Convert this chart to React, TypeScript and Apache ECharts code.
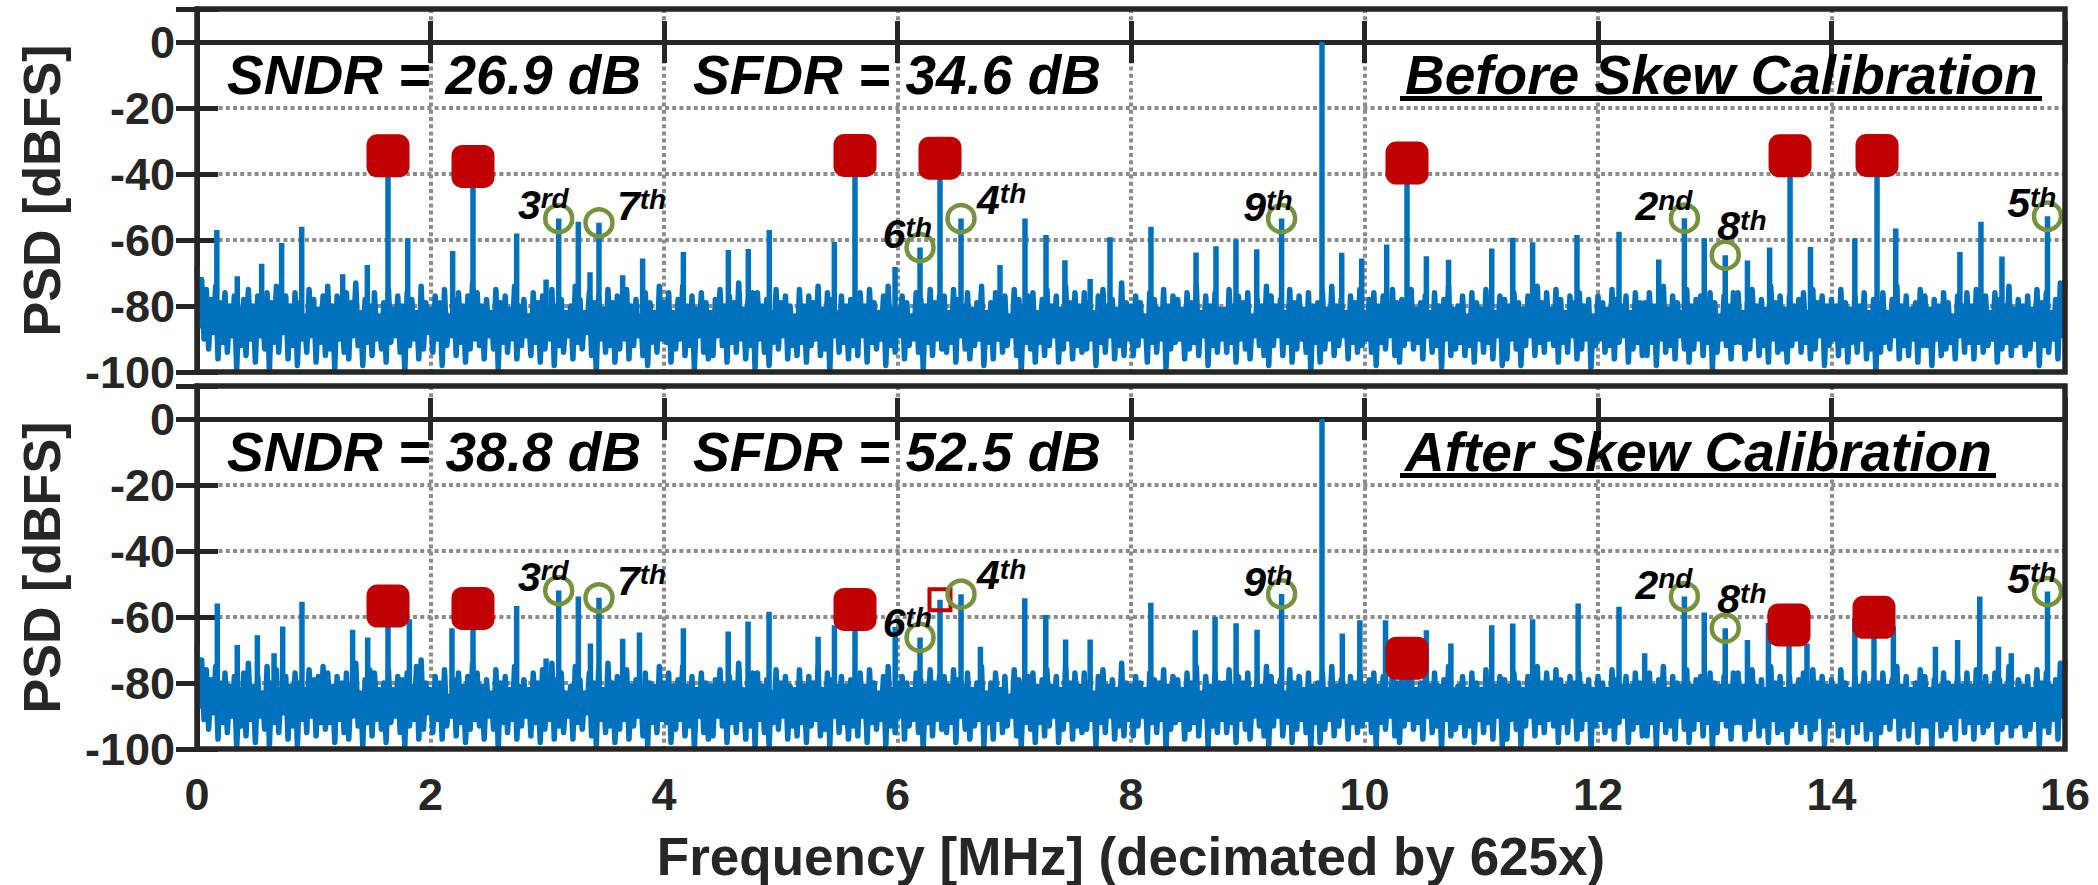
import React, { useEffect, useRef } from "react";
import * as echarts from "echarts";

// ---------------- data ----------------
const X_MIN = 0;
const X_MAX = 16;
const X_INTERVAL = 2;
const Y_MIN = -100;
const Y_MAX = 10;
const Y_INTERVAL = 20;

const NOISE_STEP = 0.02; // MHz between noise-floor samples
const SPIKE_BASE = -84; // dBFS, foot of the tone lines

// noise floor magnitudes (value = -m dBFS), before calibration
const noiseTop = [
  68,86,72,90,75,93,78,88,74,96,79,91,76,94,80,89,77,99,81,92,
  78,95,75,90,80,97,77,89,82,93,76,100,79,91,74,94,81,88,77,96,
  80,92,76,98,79,90,83,94,75,89,78,97,81,91,77,95,74,93,80,99,
  77,90,81,94,76,96,79,89,73,92,82,98,78,91,80,95,76,90,83,93,
  79,97,75,91,81,89,77,94,80,100,76,92,78,90,82,96,74,93,79,88,
  81,94,77,90,79,98,75,92,83,89,78,95,76,91,80,97,77,93,73,90,
  76,92,80,96,78,89,82,93,75,99,79,91,77,94,81,90,74,96,80,92,
  78,89,83,95,76,91,79,97,77,93,81,90,75,98,80,92,78,94,82,89,
  80,96,74,91,78,93,82,88,76,95,79,100,77,90,81,94,75,92,79,97,
  77,93,81,90,75,96,80,92,78,89,83,95,76,98,79,91,82,94,74,90,
  79,91,76,97,82,93,78,90,74,95,80,92,77,99,81,89,76,94,79,96,
  82,95,78,89,75,92,80,97,77,91,79,94,73,90,81,96,78,92,76,99,
  76,90,80,94,78,98,82,91,75,93,79,89,77,96,80,92,83,95,75,91,
  80,97,77,92,79,90,74,95,81,93,76,100,78,89,82,94,77,91,80,96,
  78,92,81,95,76,89,80,97,75,91,79,93,82,90,77,98,74,92,81,94,
  81,89,77,96,79,92,83,90,76,94,78,99,80,91,75,95,79,90,77,93,
  77,94,82,91,75,97,78,89,80,93,76,96,81,92,79,90,74,98,82,91,
  79,96,76,90,81,94,77,92,83,89,75,95,78,100,80,91,77,93,76,97,
  82,91,78,95,75,92,80,89,77,97,81,93,74,90,79,96,76,92,80,94,
  76,93,79,90,82,98,77,91,75,94,80,89,78,96,81,92,73,95,79,90,
  80,95,77,92,79,89,83,97,76,91,78,94,81,90,75,99,80,93,77,91,
  78,90,81,96,76,93,79,91,74,95,82,89,77,98,80,92,76,94,81,90,
  81,94,75,91,80,97,77,90,79,93,76,96,83,89,78,92,80,95,74,98,
  77,92,80,89,78,95,82,91,75,97,79,93,77,90,81,94,76,100,80,91,
  79,97,76,93,81,90,74,95,80,92,78,89,82,96,77,91,79,94,75,92,
  82,90,78,94,76,98,80,91,77,93,81,89,75,95,79,97,78,92,80,90,
  75,93,81,91,79,96,77,89,82,94,76,92,80,99,78,90,74,95,81,93,
  80,91,77,95,83,92,76,97,79,90,81,94,75,91,78,96,82,89,77,98,
  78,96,80,90,76,93,79,98,81,92,77,89,80,95,74,91,79,94,76,90,
  81,92,75,97,78,91,82,94,77,89,79,96,76,93,80,90,78,99,83,92,
  77,90,79,94,81,92,75,96,78,91,80,89,77,97,82,93,76,91,79,95,
  79,95,76,91,80,98,78,90,74,94,81,92,77,96,79,89,82,93,75,97,
  80,93,78,90,77,95,81,91,76,99,79,94,83,90,77,92,80,96,76,91,
  76,91,82,96,79,93,75,89,80,95,78,92,81,97,74,90,79,94,77,93,
  81,97,77,92,80,90,78,94,76,91,82,96,75,93,79,89,77,98,80,92,
  78,90,80,95,75,92,79,97,81,91,77,94,80,90,76,96,82,93,78,100,
  79,94,76,91,82,93,78,89,74,96,80,92,77,95,81,90,79,97,75,92,
  77,92,81,98,78,90,80,95,76,93,79,91,83,96,77,89,80,94,76,91,
  80,96,75,91,79,94,77,92,82,90,76,97,78,93,80,91,74,95,81,92,
  78,91,80,95,77,93,81,90,75,98,79,92,76,94,82,90,78,96,73,89,
  72,
];

// noise floor magnitudes, after calibration
const noiseBottom = [
  69,87,73,91,76,94,79,89,75,97,80,92,77,95,81,90,78,100,82,93,
  77,96,74,91,81,98,78,90,83,94,75,99,80,92,76,95,82,89,78,97,
  81,93,77,99,80,91,82,95,76,90,79,96,78,92,75,94,77,92,81,98,
  78,91,80,95,77,97,81,90,74,93,83,99,79,92,76,96,77,91,82,94,
  80,98,76,92,82,90,78,95,79,99,77,93,81,91,75,97,73,94,80,89,
  82,95,78,91,80,97,76,93,84,90,79,96,77,92,81,98,78,94,74,91,
  77,93,81,97,79,90,83,94,76,100,80,92,78,95,82,91,75,97,81,93,
  79,90,82,96,77,92,80,98,76,94,78,91,74,97,79,93,77,95,83,90,
  81,97,75,92,79,94,83,89,77,96,80,99,76,91,82,95,74,93,80,98,
  78,94,80,91,76,97,81,93,79,90,82,96,77,99,80,92,81,95,75,91,
  80,92,77,98,81,94,79,91,75,96,81,93,78,100,82,90,77,95,80,97,
  81,96,79,90,76,93,81,98,78,92,80,95,74,91,82,97,79,93,77,99,
  77,91,81,95,79,99,83,92,76,94,80,90,78,97,81,93,82,96,76,92,
  81,98,78,93,80,91,75,96,82,94,77,99,79,90,81,95,78,92,81,97,
  79,93,82,96,77,90,81,98,76,92,80,94,83,91,78,99,75,93,82,95,
  80,90,78,97,80,93,82,91,77,95,79,100,81,92,76,96,80,91,78,94,
  78,95,81,92,76,98,79,90,81,94,77,97,82,93,80,91,75,99,83,92,
  80,97,77,91,82,95,78,93,84,90,76,96,79,99,81,92,78,94,77,98,
  81,92,79,96,76,93,81,90,78,98,82,94,75,91,80,97,77,93,81,95,
  77,94,80,91,83,99,78,92,76,95,81,90,79,97,82,93,74,96,80,91,
  81,96,78,93,80,90,82,98,77,92,79,95,80,91,76,100,81,94,78,92,
  79,91,82,97,77,94,80,92,75,96,83,90,78,99,81,93,77,95,80,91,
  80,95,76,92,81,98,78,91,80,94,77,97,82,90,79,93,81,96,75,99,
  78,93,81,90,79,96,83,92,76,98,80,94,78,91,82,95,77,100,81,92,
  80,98,77,94,82,91,75,96,81,93,79,90,81,97,78,92,80,95,76,93,
  81,91,79,95,77,99,81,92,78,94,82,90,76,96,80,98,79,93,81,91,
  76,94,82,92,80,97,78,90,81,95,77,93,81,100,79,91,75,96,82,94,
  81,92,78,96,82,93,77,98,80,91,82,95,76,92,79,97,81,90,78,99,
  79,97,81,91,77,94,80,99,82,93,78,90,81,96,75,92,80,95,77,91,
  80,93,76,98,79,92,81,95,78,90,80,97,77,94,81,91,79,100,82,93,
  78,91,80,95,82,93,76,97,79,92,81,90,78,98,81,94,77,92,80,96,
  80,96,77,92,81,99,79,91,75,95,82,93,78,97,80,90,81,94,76,98,
  81,94,79,91,78,96,82,92,77,100,80,95,81,91,78,93,81,97,77,92,
  77,92,81,97,80,94,76,90,81,96,79,93,82,98,75,91,80,95,78,94,
  82,98,78,93,81,91,79,95,77,92,81,97,76,94,80,90,78,99,81,93,
  79,91,81,96,76,93,80,98,82,92,78,95,81,91,77,97,81,94,79,100,
  80,95,77,92,81,94,79,90,75,97,81,93,78,96,82,91,80,98,76,93,
  78,93,82,99,79,91,81,96,77,94,80,92,81,97,78,90,81,95,77,92,
  81,97,76,92,80,95,78,93,81,91,77,98,79,94,81,92,75,96,82,93,
  79,92,81,96,78,94,82,91,76,99,80,93,77,95,81,91,79,97,74,90,
  73,
];

// input tone [MHz, dBFS]
const signalTone = [9.636, 0];

// interleaving (skew) spurs [MHz, dBFS]
const spursTop = [
  [1.636, -34.5], [2.364, -37.7], [5.636, -34.4], [6.364, -35.2],
  [10.364, -36.7], [13.645, -34.5], [14.39, -34.4],
];
const spursBottom = [
  [1.636, -56.7], [2.364, -57.4], [5.636, -57.7],
  [10.364, -72.5], [13.636, -62.4], [14.364, -60.1],
];
const residualSpurBottom = [[6.364, -54.8]];

// harmonics
const harmonicOrders = [2, 3, 4, 5, 6, 7, 8, 9];
const harmonicFreqs = [12.74, 3.098, 6.544, 15.85, 6.193, 3.443, 13.09, 9.29];
const harmonicsTopDb = [-53.4, -53.5, -53.5, -52.8, -62.3, -54.8, -64.6, -53.5];
const harmonicsBottomDb = [-53.8, -52.0, -53.1, -52.3, -66.2, -54.2, -63.4, -53.0];

// other tones standing above the noise floor [MHz, dBFS]
const otherTonesTop = [
  [0.17, -57], [0.345, -71], [0.554, -67.2], [0.725, -60.9], [0.897, -56],
  [1.248, -70.4], [1.459, -67.6], [1.805, -59.5], [2.19, -63.3], [2.738, -58],
  [2.99, -72], [3.266, -54.5], [3.366, -69.8], [3.646, -70.7], [3.817, -65.6],
  [4.166, -63.6], [4.551, -63], [4.722, -62.7], [4.902, -57], [5.459, -60.6],
  [5.979, -68.2], [6.878, -67.6], [7.092, -53.5], [7.272, -58.5], [7.434, -66.1],
  [7.65, -71.8], [7.82, -59.2], [8.171, -56], [8.557, -63.8], [8.728, -61.9],
  [8.899, -59.8], [9.077, -62.8], [9.805, -63.9], [9.976, -65.6], [10.19, -61.4],
  [10.53, -64.9], [10.72, -66], [11.09, -62.6], [11.27, -59.3], [11.44, -60.7],
  [11.82, -58.5], [12.18, -57.5], [12.52, -65.9], [12.91, -59.5], [13.28, -66.2],
  [13.47, -62.3], [13.82, -62.1], [14.2, -59.5], [14.55, -56.5], [15.1, -63.6],
  [15.28, -54.5], [15.46, -65],
];
const otherTonesBottom = [
  [0.174, -55.9], [0.345, -68.5], [0.517, -65.5], [0.66, -71], [0.734, -62.9],
  [0.899, -55.4], [1.333, -63.9], [1.462, -66.2], [1.819, -60.7], [2.184, -63.4],
  [2.738, -56.7], [2.99, -72.6], [3.266, -53.8], [3.37, -68], [3.646, -66.6],
  [3.79, -64.7], [4.166, -63.4], [4.55, -64.4], [4.72, -61.4], [4.9, -58.4],
  [5.32, -66], [5.46, -62.5], [5.98, -63], [6.71, -69], [7.09, -54.3],
  [7.27, -59.4], [7.44, -66.8], [7.65, -66.8], [8.17, -55.7], [8.55, -64],
  [8.72, -59.9], [8.9, -61.9], [9.08, -63.9], [9.81, -65], [9.96, -61],
  [10.18, -61], [10.53, -64], [10.74, -68], [11.09, -62.5], [11.27, -62],
  [11.44, -60.7], [11.83, -55.9], [12.18, -56.9], [12.4, -71], [12.91, -58.6],
  [13.28, -67], [13.46, -61.8], [13.79, -68], [14.2, -60.3], [14.53, -62.9],
  [14.89, -69], [15.08, -67], [15.27, -53.8], [15.43, -69], [15.54, -71],
];

const sndrValues = [26.9, 38.8];
const sfdrValues = [34.6, 52.5];
const panelTitles = ["Before Skew Calibration", "After Skew Calibration"];
const xAxisTitle = "Frequency [MHz] (decimated by 625x)";
const yAxisTitle = "PSD [dBFS]";

// ---------------- styles / layout ----------------
const W = 2098;
const H = 885;
const GRID_LEFT = 197;
const GRID_W = 1868;
const GRID_H = 363;
const GRID_TOPS = [9, 386];
const BLUE = "#0072BD";
const RED = "#C00000";
const GREEN = "#76923C";
const DARK = "#262626";
const GRIDC = "#8c8c8c";
const FONT = "'Liberation Sans', Arial, Helvetica, sans-serif";

// label placement around each harmonic circle (style only)
const harmonicLabelPlacement: Record<number, { align: string; dx: number; dy: number }> = {
  2: { align: "right", dx: 8, dy: -12 },
  3: { align: "right", dx: 10, dy: -14 },
  4: { align: "left", dx: 16, dy: -19 },
  5: { align: "right", dx: 9, dy: -13 },
  6: { align: "right", dx: 12, dy: -14 },
  7: { align: "left", dx: 18, dy: -17 },
  8: { align: "left", dx: -8, dy: -29 },
  9: { align: "right", dx: 11, dy: -12 },
};

const suffix = (n: number) => (n === 2 ? "nd" : n === 3 ? "rd" : n === 1 ? "st" : "th");

function noiseSeriesData(noise: number[]) {
  return noise.map((m, i) => [+(i * NOISE_STEP).toFixed(4), -m]);
}

function toneSeriesData(tones: number[][]) {
  const sorted = tones.slice().sort((a, b) => a[0] - b[0]);
  const out: any[] = [];
  sorted.forEach(([f, v]) => {
    out.push([f, SPIKE_BASE], [f, v], [f, null]);
  });
  return out;
}

function buildOption() {
  const panels = [
    {
      noise: noiseTop,
      spurs: spursTop,
      residual: [] as number[][],
      harm: harmonicsTopDb,
      other: otherTonesTop,
    },
    {
      noise: noiseBottom,
      spurs: spursBottom,
      residual: residualSpurBottom,
      harm: harmonicsBottomDb,
      other: otherTonesBottom,
    },
  ];

  const grid: any[] = [];
  const xAxis: any[] = [];
  const yAxis: any[] = [];
  const series: any[] = [];
  const graphic: any[] = [];

  const tickStyle = { show: true, inside: true, length: 21, lineStyle: { color: DARK, width: 5 } };
  const splitStyle = { show: true, lineStyle: { color: GRIDC, width: 4, type: [4, 3.2] } };
  const labelFont = { fontFamily: FONT, fontWeight: "bold", fontSize: 45, color: DARK };
  const axisLineStyle = { show: true, lineStyle: { color: DARK, width: 5 } };

  panels.forEach((p, i) => {
    const top = GRID_TOPS[i];
    grid.push({
      left: GRID_LEFT,
      top,
      width: GRID_W,
      height: GRID_H,
      containLabel: false,
      outerBoundsMode: "none",
      show: false,
    });

    xAxis.push({
      gridIndex: i,
      type: "value",
      position: "bottom",
      min: X_MIN,
      max: X_MAX,
      interval: X_INTERVAL,
      axisLine: axisLineStyle,
      axisTick: tickStyle,
      axisLabel: { show: i === 1, margin: 23, ...labelFont },
      splitLine: splitStyle,
    });
    xAxis.push({
      gridIndex: i,
      type: "value",
      position: "top",
      min: X_MIN,
      max: X_MAX,
      interval: X_INTERVAL,
      axisLine: axisLineStyle,
      axisTick: tickStyle,
      axisLabel: { show: false },
      splitLine: { show: false },
    });
    yAxis.push({
      gridIndex: i,
      type: "value",
      position: "left",
      min: Y_MIN,
      max: Y_MAX,
      interval: Y_INTERVAL,
      axisLine: axisLineStyle,
      axisTick: tickStyle,
      axisLabel: {
        show: true,
        margin: 22,
        ...labelFont,
        formatter: (v: number) => (v > 0 ? "" : String(v)),
      },
      splitLine: splitStyle,
    });
    yAxis.push({
      gridIndex: i,
      type: "value",
      position: "right",
      min: Y_MIN,
      max: Y_MAX,
      interval: Y_INTERVAL,
      axisLine: axisLineStyle,
      axisTick: tickStyle,
      axisLabel: { show: false },
      splitLine: { show: false },
    });

    const xi = i * 2;
    const yi = i * 2;

    const tones = [signalTone]
      .concat(p.spurs)
      .concat(p.residual)
      .concat(harmonicFreqs.map((f, k) => [f, p.harm[k]]))
      .concat(p.other);

    series.push({
      type: "line",
      xAxisIndex: xi,
      yAxisIndex: yi,
      data: noiseSeriesData(p.noise),
      showSymbol: false,
      symbol: "none",
      silent: true,
      clip: true,
      z: 2,
      lineStyle: { color: BLUE, width: 5.5, join: "round" },
      itemStyle: { color: BLUE },
    });

    series.push({
      type: "line",
      xAxisIndex: xi,
      yAxisIndex: yi,
      data: toneSeriesData(tones),
      showSymbol: false,
      symbol: "none",
      connectNulls: false,
      silent: true,
      clip: true,
      z: 2,
      lineStyle: { color: BLUE, width: 5.5, cap: "butt" },
      itemStyle: { color: BLUE },
    });

    series.push({
      type: "scatter",
      xAxisIndex: xi,
      yAxisIndex: yi,
      data: p.spurs,
      symbol: "roundRect",
      symbolSize: 43,
      silent: true,
      z: 3,
      itemStyle: { color: RED, opacity: 1 },
    });

    if (p.residual.length) {
      series.push({
        type: "scatter",
        xAxisIndex: xi,
        yAxisIndex: yi,
        data: p.residual,
        symbol: "rect",
        symbolSize: 21,
        silent: true,
        z: 4,
        itemStyle: { color: "rgba(0,0,0,0)", borderColor: RED, borderWidth: 4, opacity: 1 },
      });
    }

    series.push({
      type: "scatter",
      xAxisIndex: xi,
      yAxisIndex: yi,
      symbol: "circle",
      symbolSize: 27,
      silent: true,
      z: 4,
      itemStyle: { color: "rgba(0,0,0,0)", borderColor: GREEN, borderWidth: 4.5, opacity: 1 },
      data: harmonicFreqs.map((f, k) => {
        const n = harmonicOrders[k];
        const pl = harmonicLabelPlacement[n];
        return {
          value: [f, p.harm[k]],
          order: n,
          label: { align: pl.align, offset: [pl.dx, pl.dy] },
        };
      }),
      label: {
        show: true,
        position: "inside",
        verticalAlign: "middle",
        color: "#000",
        formatter: (q: any) => `{n|${q.data.order}}{s|${suffix(q.data.order)}}`,
        rich: {
          n: {
            fontFamily: FONT,
            fontWeight: "bold",
            fontStyle: "italic",
            fontSize: 41,
            lineHeight: 40,
            color: "#000",
          },
          s: {
            fontFamily: FONT,
            fontWeight: "bold",
            fontStyle: "italic",
            fontSize: 28,
            lineHeight: 14,
            verticalAlign: "top",
            color: "#000",
          },
        },
      },
    });

    // frame
    graphic.push({
      type: "rect",
      z: 100,
      silent: true,
      shape: { x: GRID_LEFT, y: top, width: GRID_W, height: GRID_H },
      style: { fill: "none", stroke: DARK, lineWidth: 5.5 },
    });

    // annotations
    const annY = top + 66;
    const annStyle = {
      fontFamily: FONT,
      fontWeight: "bold",
      fontStyle: "italic",
      fontSize: 55,
      fill: "#000",
      verticalAlign: "middle",
      textVerticalAlign: "middle",
      align: "left",
      textAlign: "left",
    };
    graphic.push({
      type: "text",
      z: 110,
      silent: true,
      x: 227,
      y: annY,
      style: { ...annStyle, text: `SNDR = ${sndrValues[i].toFixed(1)} dB` },
    });
    graphic.push({
      type: "text",
      z: 110,
      silent: true,
      x: 693,
      y: annY,
      style: { ...annStyle, text: `SFDR = ${sfdrValues[i].toFixed(1)} dB` },
    });
    graphic.push({
      type: "text",
      z: 110,
      silent: true,
      x: 1405,
      y: annY,
      style: { ...annStyle, text: panelTitles[i] },
    });
    graphic.push({
      type: "rect",
      z: 110,
      silent: true,
      shape: { x: 1400, y: top + 87, width: i === 0 ? 642 : 596, height: 5 },
      style: { fill: "#000" },
    });

    // y-axis title
    graphic.push({
      type: "text",
      z: 110,
      silent: true,
      x: 42,
      y: top + GRID_H / 2,
      rotation: Math.PI / 2,
      style: {
        text: yAxisTitle,
        fontFamily: FONT,
        fontWeight: "bold",
        fontSize: 52,
        fill: DARK,
        align: "center",
        textAlign: "center",
        verticalAlign: "middle",
        textVerticalAlign: "middle",
      },
    });
  });

  graphic.push({
    type: "text",
    z: 110,
    silent: true,
    x: GRID_LEFT + GRID_W / 2,
    y: 856,
    style: {
      text: xAxisTitle,
      fontFamily: FONT,
      fontWeight: "bold",
      fontSize: 53,
      fill: DARK,
      align: "center",
      textAlign: "center",
      verticalAlign: "middle",
      textVerticalAlign: "middle",
    },
  });

  return {
    animation: false,
    backgroundColor: "#ffffff",
    grid,
    xAxis,
    yAxis,
    series,
    graphic,
  };
}

export default function App() {
  const ref = useRef<HTMLDivElement>(null);
  useEffect(() => {
    if (!ref.current) return;
    const chart = echarts.init(ref.current, null, { renderer: "svg", width: W, height: H });
    chart.setOption(buildOption() as any);
    return () => chart.dispose();
  }, []);
  return (
    <div
      ref={ref}
      style={{ position: "fixed", left: 0, top: 0, width: W, height: H, background: "#fff" }}
    />
  );
}
